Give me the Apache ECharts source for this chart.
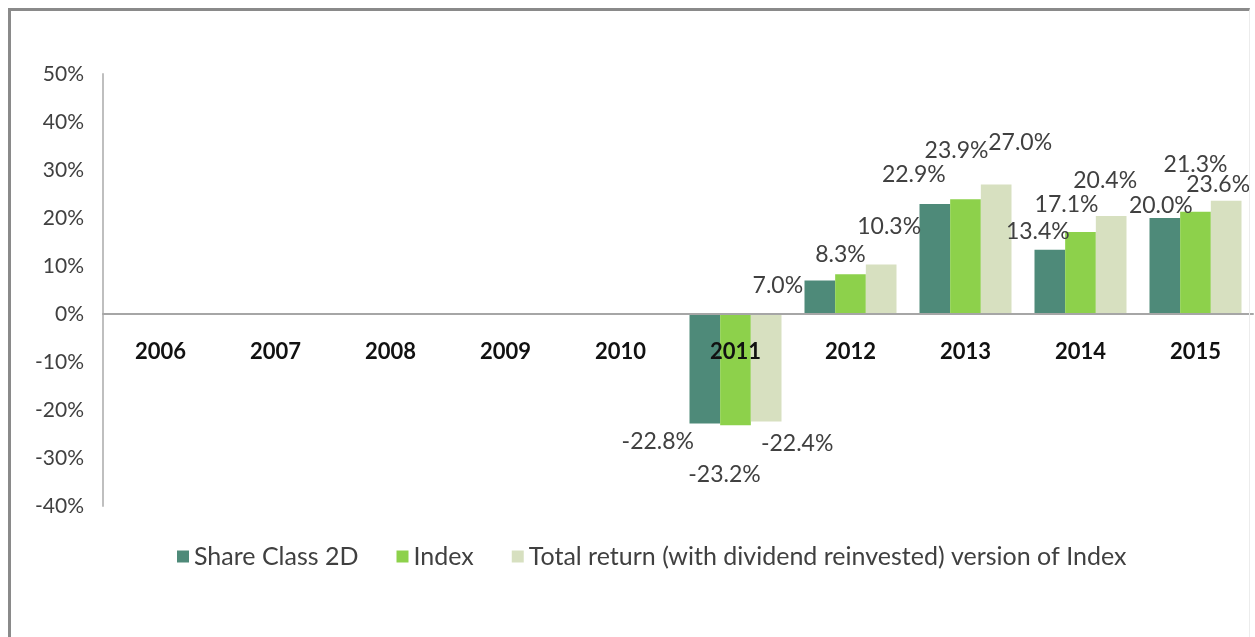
<!DOCTYPE html>
<html>
<head>
<meta charset="utf-8">
<script src="https://cdn.jsdelivr.net/npm/echarts@6/dist/echarts.min.js"></script>
<style>
html,body{margin:0;padding:0;background:#fff;}
#chart{width:1255px;height:637px;position:relative;}
#frame{position:absolute;left:8px;top:8px;width:1238px;height:640px;border-top:3px solid #8a8a8a;border-left:3px solid #8a8a8a;border-right:1px solid #ececec;pointer-events:none;}
</style>
</head>
<body>
<div id="chart"></div>
<div id="frame"></div>
<script>
// ---- data ----
var years = ['2006','2007','2008','2009','2010','2011','2012','2013','2014','2015'];
var shareClass = [null,null,null,null,null,-22.8,7.0,22.9,13.4,20.0];
var indexVals  = [null,null,null,null,null,-23.2,8.3,23.9,17.1,21.3];
var totalRet   = [null,null,null,null,null,-22.4,10.3,27.0,20.4,23.6];
var seriesNames = ['Share Class 2D','Index','Total return (with dividend reinvested) version of Index'];

// ---- label placement tweaks (style only) ----
var labelShift = [
  {5:[-47,2], 6:[-42,22], 7:[-21,-13], 8:[-12,-2], 9:[-4,4]},
  {5:[-11,33], 6:[-10,-3], 7:[-9,-32], 8:[-14,-11], 9:[0,-31]},
  {5:[31,6], 6:[8,-21], 7:[24,-25], 8:[-6,-19], 9:[-8,0]}
];
var colors = ['#4e8a79','#8dd14b','#d7e0c0'];
var FONT = 'Lato, "Open Sans", sans-serif';

function build(vals, i){
  return vals.map(function(v, k){
    if (v === null) return {value: null};
    var sh = labelShift[i][k] || [0,0];
    return {
      value: v,
      label: {position: v < 0 ? 'bottom' : 'top', offset: sh}
    };
  });
}

var chart = echarts.init(document.getElementById('chart'));
var series = [shareClass, indexVals, totalRet].map(function(vals, i){
  return {
    name: seriesNames[i],
    type: 'bar',
    data: build(vals, i),
    barGap: '0%',
    barCategoryGap: '20%',
    itemStyle: {color: colors[i]},
    label: {
      show: true,
      color: '#404040',
      fontFamily: FONT,
      fontSize: 23,
      formatter: function(p){ return p.value == null ? '' : p.value.toFixed(1) + '%'; }
    }
  };
});

chart.setOption({
  animation: false,
  backgroundColor: '#fff',
  color: colors,
  grid: {left: 103, right: 2, top: 74, bottom: 131, containLabel: false},
  legend: {
    data: seriesNames,
    left: 172, top: 539,
    icon: 'rect', itemWidth: 12, itemHeight: 12, itemGap: 38,
    textStyle: {color: '#404040', fontFamily: FONT, fontSize: 25}
  },
  xAxis: {
    type: 'category',
    data: years,
    axisLine: {onZero: true, lineStyle: {color: '#a6a6a6', width: 2}},
    axisTick: {show: false},
    axisLabel: {color: '#111', fontWeight: 'bold', fontFamily: FONT, fontSize: 22, margin: -165},
    z: 5
  },
  yAxis: {
    type: 'value',
    min: -40, max: 50, interval: 10,
    axisLine: {show: true, lineStyle: {color: '#bfbfbf', width: 2}},
    axisTick: {show: false},
    splitLine: {show: false},
    axisLabel: {color: '#404040', fontFamily: FONT, fontSize: 21, margin: 19, formatter: '{value}%'}
  },
  series: series
});
</script>
</body>
</html>
